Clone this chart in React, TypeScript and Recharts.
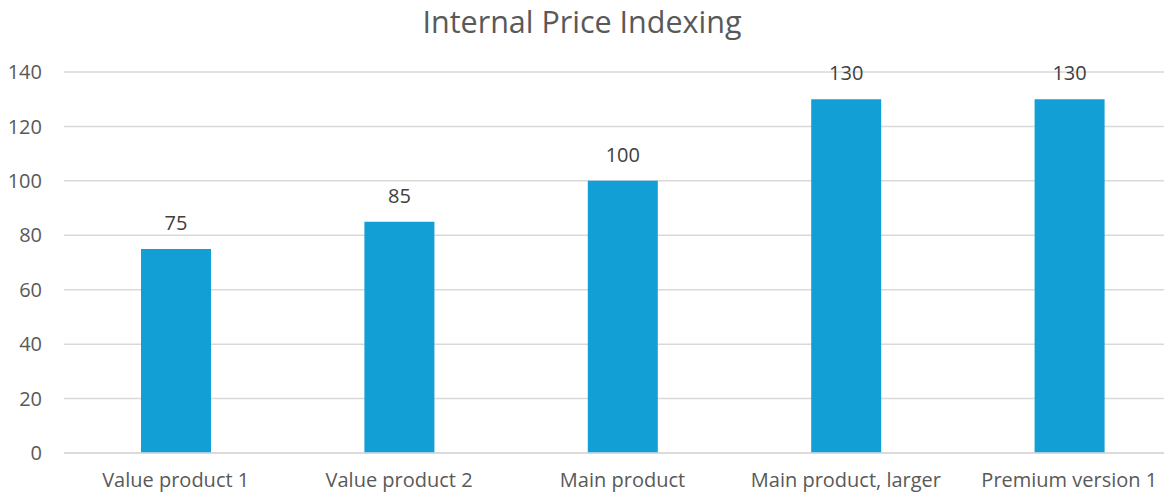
import {
  Bar,
  BarChart,
  CartesianGrid,
  LabelList,
  XAxis,
  YAxis,
} from "recharts";

const TEXT = "#595959";
const LABEL = "#404040";
const GRID = "#d9d9d9";
const BAR = "#119fd6";
const FONT = "'Open Sans', 'Noto Sans', sans-serif";

const categories = [
  "Value product 1",
  "Value product 2",
  "Main product",
  "Main product, larger",
  "Premium version 1",
];
const priceIndex = [75, 85, 100, 130, 130];
const yTicks = [0, 20, 40, 60, 80, 100, 120, 140];

const data = categories.map((name, i) => ({ name, value: priceIndex[i] }));

export default function App() {
  return (
    <div
      style={{
        position: "absolute",
        left: 0,
        top: 0,
        width: 1164,
        height: 496,
        overflow: "hidden",
        background: "#ffffff",
        fontFamily: FONT,
      }}
    >
      <div
        style={{
          position: "absolute",
          top: 0,
          left: 0,
          width: 1164,
          textAlign: "center",
          fontSize: 30.5,
          lineHeight: "normal",
          color: TEXT,
        }}
      >
        Internal Price Indexing
      </div>
      <BarChart
        width={1181}
        height={496}
        data={data}
        margin={{ top: 72, right: 0, bottom: 0, left: 0 }}
      >
        <CartesianGrid vertical={false} stroke={GRID} strokeWidth={1.5} />
        <XAxis
          dataKey="name"
          height={43}
          axisLine={{ stroke: GRID, strokeWidth: 1.5 }}
          tickLine={false}
          tickMargin={14}
          interval={0}
          tick={{ fill: TEXT, fontSize: 20, fontFamily: FONT }}
        />
        <YAxis
          width={64}
          domain={[0, 140]}
          ticks={yTicks}
          axisLine={false}
          tickLine={false}
          tickMargin={16}
          tick={{ fill: TEXT, fontSize: 20, fontFamily: FONT }}
        />
        <Bar dataKey="value" fill={BAR} barSize={70} isAnimationActive={false}>
          <LabelList
            dataKey="value"
            position="top"
            offset={19}
            fill={LABEL}
            fontSize={20}
            fontFamily={FONT}
          />
        </Bar>
      </BarChart>
    </div>
  );
}
